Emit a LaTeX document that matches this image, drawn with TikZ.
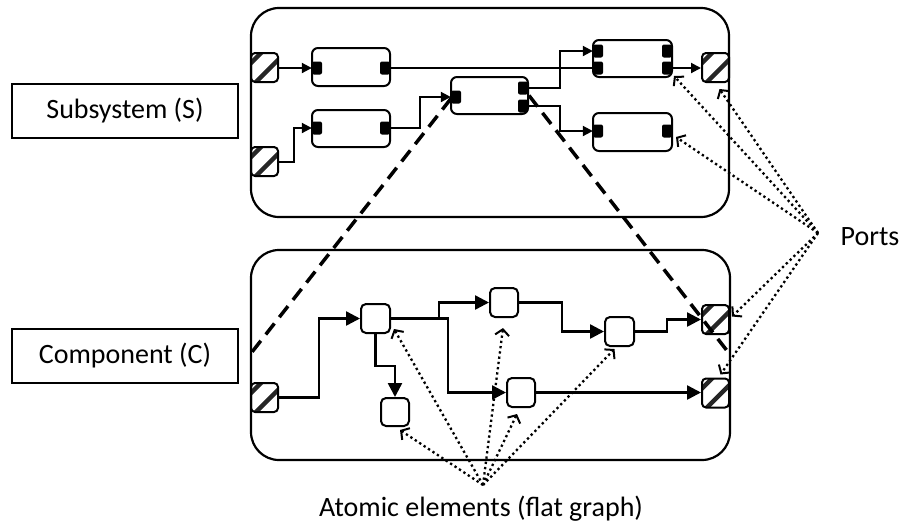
\documentclass[tikz,border=0pt]{standalone}
\usepackage{fontspec}
\setmainfont{Carlito}
\usetikzlibrary{arrows.meta,calc}
\begin{document}
\begin{tikzpicture}[x=1pt,y=-1pt,
  container/.style={draw, line width=2.2pt, rounded corners=28pt, inner sep=0pt},
  lbl/.style={draw, line width=2pt, inner sep=0pt, minimum width=226pt, minimum height=54pt, font=\fontsize{28}{32}\selectfont},
  txt/.style={inner sep=0pt, font=\fontsize{28}{32}\selectfont},
  block/.style={draw, line width=2pt, rounded corners=6pt, inner sep=0pt, minimum width=78pt, minimum height=37pt},
  atom/.style={draw, line width=2pt, rounded corners=5pt, inner sep=0pt, minimum width=28pt, minimum height=28pt},
  pad/.style={fill=black, rounded corners=2pt, inner sep=0pt, minimum width=10pt, minimum height=13pt},
  port/.style={draw, line width=2pt, rounded corners=4pt, inner sep=0pt, minimum width=27pt, minimum height=29pt,
    path picture={
      \foreach \o in {-9,3}{
        \draw[line width=4.5pt, black!85]
          ([shift={(-25+\o,25+\o)}]path picture bounding box.center) --
          ([shift={(25+\o,-25+\o)}]path picture bounding box.center);}
    }},
  sarrow/.style={line width=2pt, -{Triangle[length=10pt,width=10pt]}},
  sline/.style={line width=2pt},
  barrow/.style={line width=2.5pt, -{Triangle[length=14pt,width=14pt]}},
  dotarrow/.style={line width=2.3pt, dash pattern=on 2.3pt off 3pt,
    -{Straight Barb[length=6pt,width=14pt,line width=2pt]}},
  dashline/.style={line width=3.5pt, dash pattern=on 14pt off 8pt},
]
\useasboundingbox (0,0) rectangle (904,531);

% containers
\node[container, minimum width=478pt, minimum height=209pt] (S) at (490,112.5) {};
\node[container, minimum width=479pt, minimum height=210pt] (C) at (490.5,355) {};

% labels
\node[lbl] (LS) at (125,111) {Subsystem (S)};
\node[lbl] (LC) at (125,356) {Component (C)};
\node[txt] (LP) at (870,237) {Ports};
\node[txt] (LA) at (481,509) {Atomic elements (flat graph)};

% ---- subsystem ----
\node[port] (P1) at (264.5,67.5) {};
\node[port] (P2) at (264.5,161.5) {};
\node[port] (P3) at (715.5,67.5) {};

\node[block, minimum height=38pt] (B1) at (351,67) {};
\node[block] (B2) at (351,128.5) {};
\node[block, minimum width=77pt] (B3) at (489.5,95.5) {};
\node[block, minimum width=79pt] (B4) at (632.5,58.5) {};
\node[block, minimum width=79pt, minimum height=38pt] (B5) at (632.5,132) {};

\node[pad] (B1l) at (317,68) {};
\node[pad] (B1r) at (385,68) {};
\node[pad] (B2l) at (317,128) {};
\node[pad] (B2r) at (385,128) {};
\node[pad] (B3l) at (456,97) {};
\node[pad] (B3r1) at (523,88) {};
\node[pad] (B3r2) at (523,106) {};
\node[pad] (B4l1) at (598,51) {};
\node[pad] (B4l2) at (598,68) {};
\node[pad] (B4r1) at (667,51) {};
\node[pad] (B4r2) at (667,68) {};
\node[pad] (B5l) at (598,131) {};
\node[pad] (B5r) at (667,131) {};

\draw[sarrow] (P1.east |- B1l) -- (B1l.west);
\draw[sline] (B1r.east) -- (B4l2.west);
\draw[sarrow] (P2.east) -- (294,161.5) |- (B2l.west);
\draw[sarrow] (B2r.east) -- (420,128) |- (B3l.west);
\draw[sarrow] (B3r1.east) -- (560,88) |- (B4l1.west);
\draw[sarrow] (B3r2.east) -- (560,106) |- (B5l.west);
\draw[sarrow] (B4r2.east) -- (P3.west |- B4r2);

% ---- component ----
\node[port] (Q1) at (264.5,397.5) {};
\node[port] (Q2) at (715.5,319.5) {};
\node[port] (Q3) at (715.5,393) {};

\node[atom, minimum width=29pt, minimum height=29pt] (A1) at (375.5,318.5) {};
\node[atom, minimum height=29pt] (A2) at (504,302.5) {};
\node[atom] (A3) at (395,412) {};
\node[atom, minimum width=29pt, minimum height=29pt] (A4) at (619.5,331.5) {};
\node[atom, minimum height=29pt] (A5) at (521,392.5) {};

\draw[barrow] (Q1.east) -- (319,397.5) |- (A1.west);
\draw[barrow] (A1.east) -- (439,318.5) |- (A2.west);
\draw[barrow] (A1.east) -- (448,318.5) |- (A5.west);
\draw[barrow] (A1.south) -- (375.5,366) -| (A3.north);
\draw[barrow] (A2.east) -- (562,302.5) |- (A4.west);
\draw[barrow] (A4.east) -- (667,331.5) |- (Q2.west);
\draw[barrow] (A5.east) -- (Q3.west |- A5);

% ---- dashed mapping lines ----
\coordinate (dL) at (252,352);
\coordinate (dR) at (728,352);
\draw[dashline] ([shift={(1,3)}]B3.west) -- (dL);
\draw[dashline] (B3.east) -- (dR);

% ---- dotted pointers ----
\coordinate (pc) at (818,233);
\draw[dotarrow] (pc) -- ([shift={(1,-2)}]B4.south east);
\draw[dotarrow] (pc) -- ([shift={(4,6)}]P3.south);
\draw[dotarrow] (pc) -- ([shift={(3,5)}]B5.east);
\draw[dotarrow] (pc) -- ([shift={(2,-3)}]Q2.east);
\draw[dotarrow] (pc) -- ([shift={(5,-3)}]Q3.north);

\coordinate (ac) at (483,485);
\draw[dotarrow] (ac) -- ([shift={(3,-5)}]A1.south east);
\draw[dotarrow] (ac) -- ([shift={(-1,10)}]A2.south);
\draw[dotarrow] (ac) -- ([shift={(-10,3)}]A3.south east);
\draw[dotarrow] (ac) -- ([shift={(-4,6)}]A5.south);
\draw[dotarrow] (ac) -- ([shift={(-5,2)}]A4.south);
\end{tikzpicture}
\end{document}
